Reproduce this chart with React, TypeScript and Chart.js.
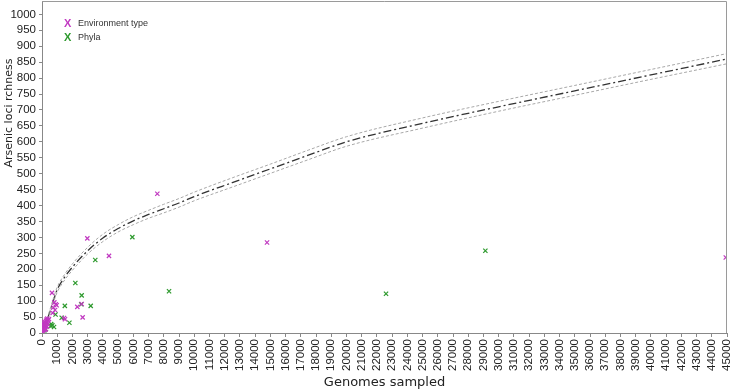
import React, { useEffect, useRef } from "react";
import { Chart, registerables } from "chart.js";

Chart.register(...registerables);

const xTickValues = Array.from({ length: 46 }, (_, i) => i * 1000);
const yTickValues = Array.from({ length: 21 }, (_, i) => i * 50);

const curveX = [0, 100, 250, 500, 750, 1000, 1500, 2000, 3000, 4000, 5000, 6000, 7000, 8000, 9000, 10000, 12500, 15000, 17500, 20000, 25000, 30000, 35000, 40000, 45000];
const curveMid = [0, 12, 32, 64, 102, 136, 176, 207, 258, 298, 328, 352, 372, 390, 408, 428, 472, 515, 558, 600, 658, 710, 760, 810, 860];
const curveUpper = [0, 14, 36, 70, 109, 144, 185, 217, 269, 310, 340, 365, 385, 404, 422, 442, 487, 530, 574, 616, 675, 727, 777, 827, 877];
const curveLower = [0, 10, 28, 58, 95, 128, 167, 197, 248, 287, 317, 340, 360, 377, 395, 415, 458, 501, 544, 586, 643, 696, 746, 796, 845];

const envX = [7576, 2978, 4400, 14783, 44920, 657, 810, 965, 745, 855, 700, 900, 2320, 2606, 2670, 1445, 1511, 20, 40, 60, 80, 100, 120, 140, 160, 180, 200, 220, 240, 260, 280, 300, 320, 350, 380, 420, 460, 100, 150, 200, 50, 250, 330, 60, 30];
const envY = [437, 297, 242, 284, 237, 126, 96, 87, 80, 72, 63, 90, 82, 91, 49, 47, 43, 3, 8, 5, 12, 18, 10, 22, 15, 28, 20, 33, 25, 38, 30, 42, 35, 45, 28, 40, 44, 30, 35, 10, 15, 12, 20, 25, 10];

const phylaX = [5935, 3500, 2190, 2606, 3200, 1500, 8345, 22600, 29126, 1800, 1294, 890, 790, 680, 571, 250, 2580, 600, 150];
const phylaY = [301, 229, 157, 118, 85, 85, 131, 123, 258, 32, 48, 58, 19, 24, 22, 12, 90, 28, 8];

const legendItems = ["Environment type", "Phyla"];
const yTitle = "Arsenic loci rchness";
const envColor = "#c13ac1";
const phylaColor = "#2e9a2e";

const toPts = (xs: number[], ys: number[]) => xs.map((x, i) => ({ x, y: ys[i] }));

export default function App() {
  const ref = useRef<HTMLCanvasElement | null>(null);
  useEffect(() => {
    if (!ref.current) return;
    const framePlugin = {
      id: "frame",
      afterDraw(chart: any) {
        const { ctx, chartArea } = chart;
        ctx.save();
        ctx.strokeStyle = "#9a9a9a";
        ctx.lineWidth = 1;
        ctx.beginPath();
        ctx.moveTo(chartArea.left, chartArea.top + 0.5);
        ctx.lineTo(chartArea.right - 0.5, chartArea.top + 0.5);
        ctx.lineTo(chartArea.right - 0.5, chartArea.bottom);
        ctx.stroke();
        const colors = [envColor, phylaColor];
        legendItems.forEach((label, i) => {
          const y = 24 + i * 14;
          ctx.fillStyle = colors[i];
          ctx.font = "bold 11px 'Liberation Sans', Arial, sans-serif";
          ctx.textBaseline = "middle";
          ctx.textAlign = "left";
          ctx.fillText("X", 64, y);
          ctx.fillStyle = "#333";
          ctx.font = "9px 'Liberation Sans', Arial, sans-serif";
          ctx.fillText(label, 78, y);
        });
        // y axis title
        ctx.translate(9, 113);
        ctx.rotate(-Math.PI / 2);
        ctx.fillStyle = "#222";
        ctx.font = "11px 'DejaVu Sans', Verdana, sans-serif";
        ctx.textAlign = "center";
        ctx.textBaseline = "middle";
        ctx.fillText(yTitle, 0, 0);
        ctx.restore();
      },
    };
    const chart = new Chart(ref.current, {
      type: "scatter",
      data: {
        datasets: [
          {
            label: "Environment type",
            data: toPts(envX, envY),
            pointStyle: "crossRot",
            pointRadius: 3,
            borderColor: envColor,
            backgroundColor: envColor,
            borderWidth: 1.2,
            showLine: false,
          },
          {
            label: "Phyla",
            data: toPts(phylaX, phylaY),
            pointStyle: "crossRot",
            pointRadius: 3,
            borderColor: phylaColor,
            backgroundColor: phylaColor,
            borderWidth: 1.2,
            showLine: false,
          },
          {
            label: "upper",
            data: toPts(curveX, curveUpper),
            showLine: true,
            pointRadius: 0,
            borderColor: "#a8a8a8",
            borderWidth: 1,
            borderDash: [3, 2],
            cubicInterpolationMode: "monotone",
          },
          {
            label: "lower",
            data: toPts(curveX, curveLower),
            showLine: true,
            pointRadius: 0,
            borderColor: "#a8a8a8",
            borderWidth: 1,
            borderDash: [3, 2],
            cubicInterpolationMode: "monotone",
          },
          {
            label: "mean",
            data: toPts(curveX, curveMid),
            showLine: true,
            pointRadius: 0,
            borderColor: "#333333",
            borderWidth: 1.3,
            borderDash: [8, 3, 2, 3],
            cubicInterpolationMode: "monotone",
          },
        ],
      },
      options: {
        animation: false,
        responsive: false,
        maintainAspectRatio: false,
        layout: { autoPadding: false, padding: { top: 1, right: 3, left: 0, bottom: 0 } },
        plugins: { legend: { display: false }, tooltip: { enabled: false } },
        scales: {
          x: {
            type: "linear",
            min: 0,
            max: 45000,
            afterBuildTicks: (scale: any) => {
              scale.ticks = xTickValues.map((v) => ({ value: v }));
            },
            afterFit: (scale: any) => {
              scale.height = 57;
              scale.paddingLeft = 0;
              scale.paddingRight = 0;
            },
            ticks: {
              autoSkip: false,
              minRotation: 90,
              maxRotation: 90,
              padding: 2,
              color: "#222",
              font: { family: "'Liberation Sans', Arial, sans-serif", size: 11.5 },
              callback: (v: any) => String(v),
            },
            grid: { drawOnChartArea: false, drawTicks: true, tickLength: 4, color: "#888" },
            border: { display: true, color: "#888" },
            title: {
              display: true,
              text: "Genomes sampled",
              color: "#222",
              padding: { top: 0, bottom: 0 },
              font: { family: "'DejaVu Sans', Verdana, sans-serif", size: 13 },
            },
          },
          y: {
            type: "linear",
            min: 0,
            max: 1042,
            afterBuildTicks: (scale: any) => {
              scale.ticks = yTickValues.map((v) => ({ value: v }));
            },
            afterFit: (scale: any) => {
              scale.width = 42;
              scale.paddingTop = 0;
              scale.paddingBottom = 0;
            },
            ticks: {
              autoSkip: false,
              padding: 3,
              color: "#222",
              font: { family: "'Liberation Sans', Arial, sans-serif", size: 11.5, lineHeight: 1 },
              callback: (v: any) => String(v),
            },
            grid: { drawOnChartArea: false, drawTicks: true, tickLength: 3, color: "#888" },
            border: { display: true, color: "#888" },
            title: { display: false },
          },
        },
      },
      plugins: [framePlugin],
    } as any);
    return () => chart.destroy();
  }, []);
  return (
    <div style={{ position: "fixed", left: 0, top: 0, width: 730, height: 390, background: "#fff" }}>
      <canvas ref={ref} width={730} height={390} style={{ width: 730, height: 390 }} />
    </div>
  );
}
